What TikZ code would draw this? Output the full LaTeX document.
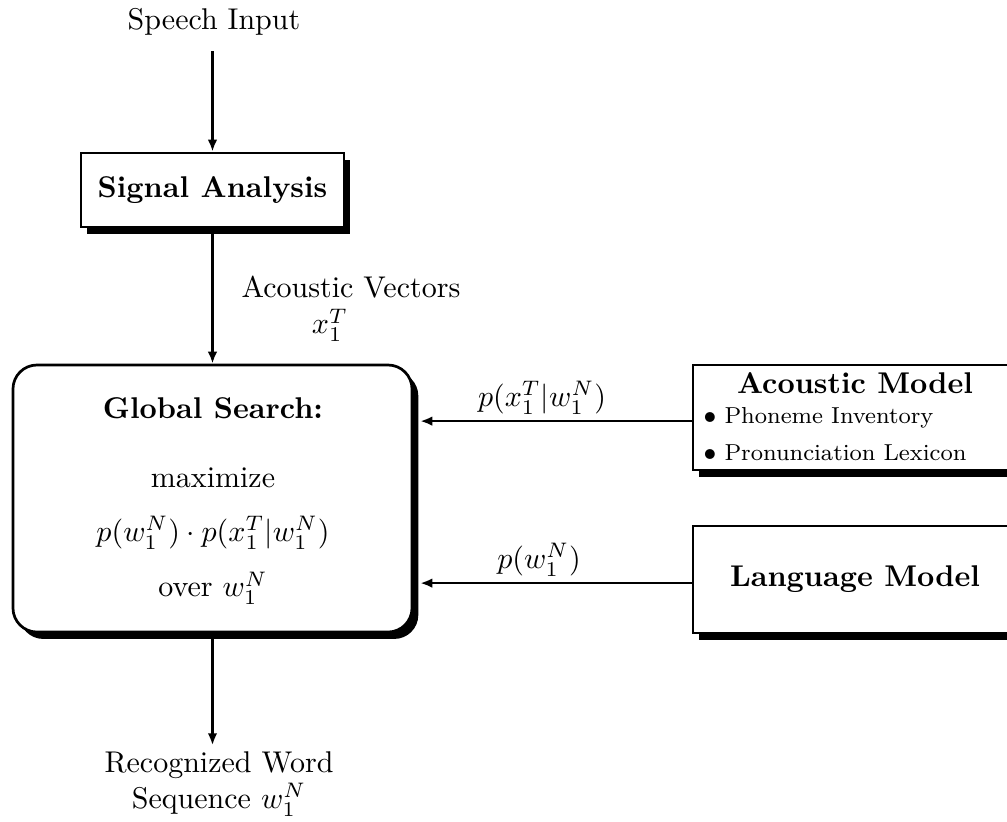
\documentclass[tikz,border=0pt]{standalone}
\usetikzlibrary{arrows.meta,shadows}
\begin{document}
\begin{tikzpicture}[x=0.3333pt,y=-0.3333pt,
  conn/.style={line width=0.8pt,-{Latex[length=4pt,width=3.2pt]}},
  shadowbox/.style={draw,line width=0.9pt,fill=white,
    drop shadow={fill=black,opacity=1,shadow xshift=2.1pt,shadow yshift=-2.3pt}},
  sqbox/.style={shadowbox,rectangle,inner sep=0pt},
  rbox/.style={shadowbox,rectangle,rounded corners=8pt,inner sep=0pt},
  lbl/.style={inner sep=0pt},
  title/.style={lbl,font=\bfseries},
  item/.style={lbl,font=\fontsize{7.7}{9}\selectfont,anchor=west}]
\useasboundingbox (0,0) rectangle (1007,821);
\clip (0,0) rectangle (1007,821);
% texts outside
\node[lbl] (si) at (214,22) {Speech Input};
% boxes
\node[sqbox,minimum width=87.7pt,minimum height=24.7pt] (sa) at (212.5,190) {\bfseries Signal Analysis};
\node[rbox,minimum width=133pt,minimum height=89pt] (gs) at (212.5,498.5) {};
\node[sqbox,minimum width=108pt,minimum height=35pt] (am) at (855,417.5) {};
\node[sqbox,minimum width=108pt,minimum height=35.7pt] (lm) at (855,579.5) {\bfseries Language Model};
% global search content
\node[title] (gst) at (213,408) {Global Search:};
\node[lbl] (gsm) at (213,478) {maximize};
\node[lbl] (gsf) at (213,533) {$p(w_1^N)\cdot p(x_1^T|w_1^N)$};
\node[lbl] (gso) at (213,588) {over $w_1^N$};
% acoustic model content
\node[title] (amt) at (855,383) {Acoustic Model};
\node[item] (am1) at (703,418) {$\bullet$ Phoneme Inventory};
\node[item] (am2) at (703,453) {$\bullet$ Pronunciation Lexicon};
% labels
\node[lbl] (av1) at (351,287) {Acoustic Vectors};
\node[lbl] (av2) at (330,325) {$x_1^T$};
\node[lbl] (pa) at (542,398) {$p(x_1^T|w_1^N)$};
\node[lbl] (pl) at (539,560) {$p(w_1^N)$};
\node[lbl,align=center] (rw) at (219,784) {Recognized Word\\Sequence $w_1^N$};
% connectors
\draw[conn] ([yshift=-5pt]sa.north |- si.south) -- (sa.north);
\draw[conn] (sa.south) -- (gs.north);
\draw[conn] ([yshift=-1.2pt]am.west) -- ([yshift=-1.2pt,xshift=2.3pt]am.west -| gs.east);
\draw[conn] ([yshift=-1.2pt]lm.west) -- ([yshift=-1.2pt,xshift=2.3pt]lm.west -| gs.east);
\draw[conn] (gs.south) -- ([yshift=2pt]gs.south |- rw.north);
\end{tikzpicture}
\end{document}
